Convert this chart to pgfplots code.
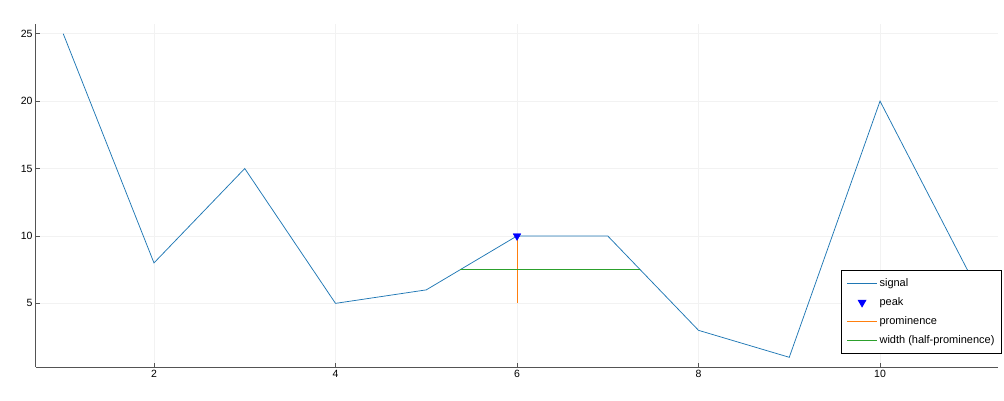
\documentclass[border=0pt]{standalone}
\usepackage{pgfplots}
\pgfplotsset{compat=1.18}
\usepackage{fontspec}
\setmainfont{Liberation Sans}
\definecolor{sigc}{RGB}{31,119,180}
\definecolor{promc}{RGB}{255,127,14}
\definecolor{widc}{RGB}{44,160,44}
\definecolor{peakc}{RGB}{0,0,255}
\pgfplotsset{
  longline/.style={legend image code/.code={\draw[##1] (0pt,0pt) -- (30pt,0pt);}},
  midmark/.style={legend image code/.code={\draw[##1] plot coordinates {(15pt,0pt)};}},
}
\begin{document}
\begin{tikzpicture}[x=1pt,y=1pt]
\useasboundingbox (-36,-33) rectangle (968,367);
\begin{axis}[
  at={(0,0)}, anchor=south west,
  scale only axis, width=962pt, height=343pt,
  xmin=0.7, xmax=11.3, ymin=0.28, ymax=25.72,
  xtick={2,4,6,8,10}, ytick={5,10,15,20,25},
  axis x line*=bottom, axis y line*=left,
  axis line style={black!67, line width=1pt, -},
  tick align=inside, major tick length=4pt,
  tick style={black!67, line width=0.8pt},
  grid=major, major grid style={black!5, line width=0.5pt},
  tick label style={font=\fontsize{10.5}{12}\selectfont},
  /pgf/number format/assume math mode=true,
  legend style={at={(1.004,0.038)}, anchor=south east, draw=black, line width=0.7pt,
    font=\fontsize{11}{12}\selectfont, row sep=5.5pt, inner xsep=5pt, inner ysep=6.5pt,
    cells={anchor=west}},
  legend cell align=left,
]
\addplot[color=sigc, line width=0.75pt, mark=none, longline] coordinates {
(1,25) (2,8) (3,15) (4,5) (5,6) (6,10) (7,10) (8,3) (9,1) (10,20) (11,7)};
\addlegendentry{signal}
\addlegendimage{only marks, mark=triangle*, color=peakc, mark options={rotate=180}, mark size=4.5pt, midmark}
\addlegendentry{peak}
\addplot[color=promc, draw=promc, line width=1pt, mark=none, longline] coordinates {(6,5) (6,10)};
\addlegendentry{prominence}
\addplot[color=widc, draw=widc, line width=1pt, mark=none, longline] coordinates {(5.375,7.5) (7.357,7.5)};
\addlegendentry{width (half-prominence)}
\addplot[only marks, mark=triangle*, color=peakc, mark options={rotate=180}, mark size=4.5pt, forget plot] coordinates {(6,10)};
\end{axis}
\end{tikzpicture}
\end{document}
